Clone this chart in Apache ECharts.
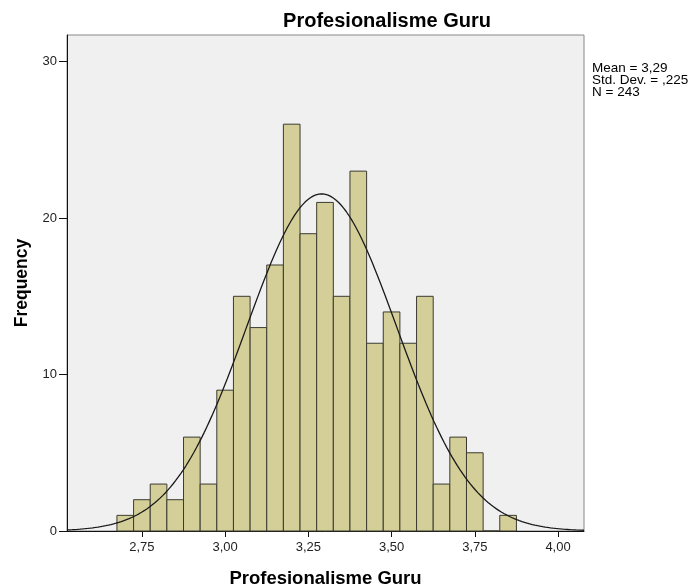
<!DOCTYPE html>
<html>
<head>
<meta charset="utf-8">
<script src="https://cdn.jsdelivr.net/npm/echarts@6/dist/echarts.min.js"></script>
<style>html,body{margin:0;padding:0;background:#fff}#c{width:690px;height:586px}</style>
</head>
<body>
<div id="c"></div>
<script>
// Data
var binCenters = [2.70, 2.75, 2.80, 2.85, 2.90, 2.95, 3.00, 3.05, 3.10, 3.15, 3.20, 3.25, 3.30, 3.35, 3.40, 3.45, 3.50, 3.55, 3.60, 3.65, 3.70, 3.75, 3.80, 3.85];
var frequencies = [1, 2, 3, 2, 6, 3, 9, 15, 13, 17, 26, 19, 21, 15, 23, 12, 14, 12, 15, 3, 6, 5, 0, 1];
var binWidth = 0.05;
var meanVal = 3.29;
var sdVal = 0.225;
var nVal = 243;
var xTicks = [2.75, 3.00, 3.25, 3.50, 3.75, 4.00];
var yTicks = [0, 10, 20, 30];
var xMin = 2.525, xMax = 4.078;

var barData = binCenters.map(function (c, i) { return [c, frequencies[i]]; });
var curve = [];
for (var k = 0; k <= 200; k++) {
  var x = xMin + (xMax - xMin) * k / 200;
  var z = (x - meanVal) / sdVal;
  curve.push([x, nVal * binWidth * Math.exp(-0.5 * z * z) / (sdVal * Math.sqrt(2 * Math.PI))]);
}

var chart = echarts.init(document.getElementById('c'), null, {renderer: 'canvas'});
var font = 'Liberation Sans, Arial, sans-serif';
chart.setOption({
  animation: false,
  title: {
    text: 'Profesionalisme Guru',
    left: 382, top: 6, textAlign: 'center',
    textStyle: {fontFamily: font, fontSize: 20, fontWeight: 'bold', color: '#000'}
  },
  graphic: [{
    type: 'text', left: 592, top: 61,
    style: {text: 'Mean = 3,29\nStd. Dev. = ,225\nN = 243', font: '13.5px ' + font, fill: '#000', lineHeight: 12}
  }],
  grid: {left: 67, top: 35, right: 106, bottom: 55, outerBoundsMode: 'none', containLabel: false,
    show: true, backgroundColor: '#f0f0f0', borderColor: '#888', borderWidth: 1},
  xAxis: {
    type: 'value', min: xMin, max: xMax,
    name: 'Profesionalisme Guru', nameLocation: 'middle', nameGap: 38,
    nameTextStyle: {fontFamily: font, fontSize: 18.5, fontWeight: 'bold', color: '#000'},
    axisLine: {onZero: false, lineStyle: {color: '#111', width: 1}},
    axisTick: {show: true, length: 6, customValues: xTicks, lineStyle: {color: '#111'}},
    axisLabel: {customValues: xTicks, margin: 10, fontFamily: font, fontSize: 13, color: '#222',
      formatter: function (v) { return v.toFixed(2).replace('.', ','); }},
    splitLine: {show: false}
  },
  yAxis: {
    type: 'value', min: 0, max: 31.7,
    name: 'Frequency', nameLocation: 'middle', nameGap: 36, nameRotate: 90,
    nameTextStyle: {fontFamily: font, fontSize: 17.5, fontWeight: 'bold', color: '#000'},
    axisLine: {show: true, lineStyle: {color: '#111', width: 1}},
    axisTick: {show: true, length: 8, customValues: yTicks, lineStyle: {color: '#111'}},
    axisLabel: {customValues: yTicks, margin: 10, fontFamily: font, fontSize: 13, color: '#222'},
    splitLine: {show: false}
  },
  series: [{
    type: 'custom',
    data: barData,
    renderItem: function (params, api) {
      var c = api.value(0), f = api.value(1);
      var p0 = api.coord([c - binWidth / 2, f]);
      var p1 = api.coord([c + binWidth / 2, 0]);
      return {
        type: 'rect',
        shape: {x: p0[0], y: p0[1], width: p1[0] - p0[0], height: p1[1] - p0[1]},
        style: {fill: '#d4cf98', stroke: '#3a3a30', lineWidth: 1}
      };
    },
    z: 2
  }, {
    type: 'line', data: curve, showSymbol: false, smooth: false,
    lineStyle: {color: '#1a1a1a', width: 1.3}, z: 3
  }]
});
</script>
</body>
</html>
